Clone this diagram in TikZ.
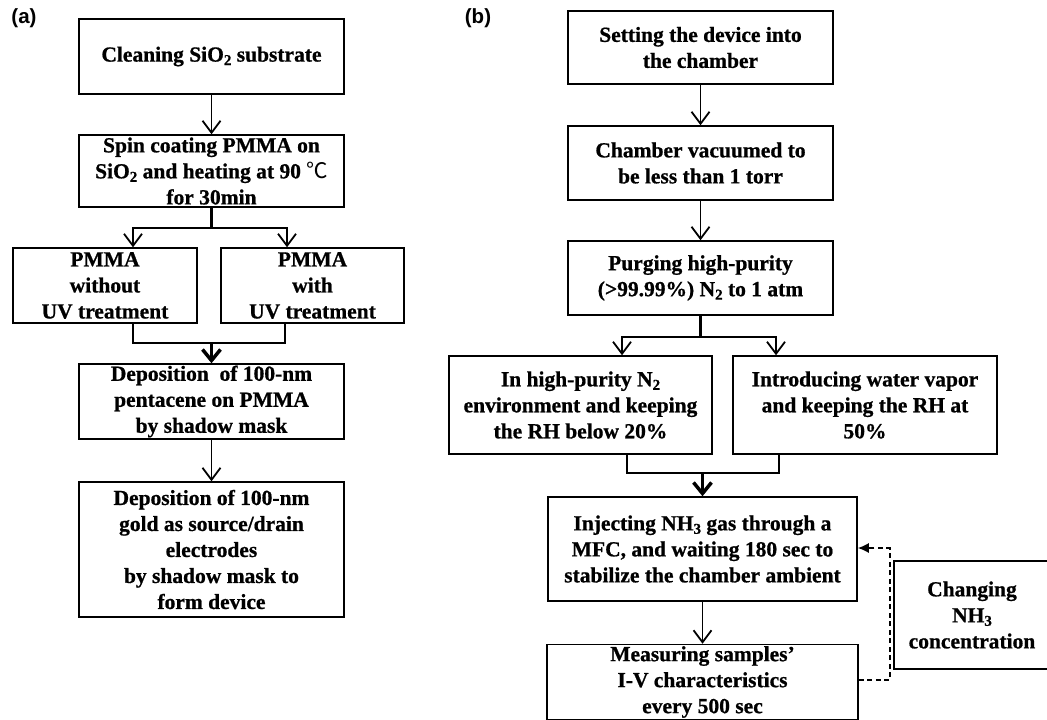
\documentclass[tikz,border=0pt]{standalone}
\usepackage{fontspec}
\setmainfont{Liberation Serif}[BoldFeatures={FakeBold=0.8}]
\newfontfamily\lsans{Liberation Sans}
\newfontfamily\cjkfont{Noto Sans CJK SC}
\usetikzlibrary{arrows.meta}
\newcommand{\lowsub}[1]{\raisebox{-0.35ex}{\fontsize{15}{15}\selectfont #1}}
\begin{document}
\begin{tikzpicture}[x=1pt,y=-1pt,
  box/.style={draw, line width=1.5pt, inner sep=0pt, align=center,
    font=\fontsize{21.5}{26}\selectfont\bfseries},
  conn/.style={line width=2pt},
  arr/.style={line width=1.8pt, -{Straight Barb[length=12pt,width=18pt]}},
  tarr/.style={line width=3.5pt, -{Straight Barb[length=11pt,width=18pt]}},
  tline/.style={line width=3.5pt},
  dasharr/.style={line width=1.6pt, dash pattern=on 5pt off 3.5pt, -{Latex[length=11pt,width=10pt]}},
  lab/.style={font=\lsans\bfseries\fontsize{20.5}{22}\selectfont}]
\useasboundingbox (0,0) rectangle (1047,720);

% labels
\node[lab] (la) at (24,18) {(a)};
\node[lab] (lb) at (478,18) {(b)};

% panel (a)
\node[box, minimum width=265pt, minimum height=75pt] (A1) at (211.5,56.5) {Cleaning SiO\lowsub{2} substrate};
\node[box, minimum width=265pt, minimum height=72pt] (A2) at (211.5,171) {Spin coating PMMA on\\SiO\lowsub{2} and heating at 90 {\cjkfont\mdseries ℃}\\for 30min};
\node[box, minimum width=184pt, minimum height=75pt] (A3L) at (105,285.5) {PMMA\\without\\UV treatment};
\node[box, minimum width=183pt, minimum height=75pt] (A3R) at (312.5,285.5) {PMMA\\with\\UV treatment};
\node[box, minimum width=265pt, minimum height=75pt] (A4) at (211.5,401.5) {Deposition~ of 100-nm\\pentacene on PMMA\\by shadow mask};
\node[box, minimum width=265pt, minimum height=135pt] (A5) at (211.5,549.5) {Deposition of 100-nm\\gold as source/drain\\electrodes\\by shadow mask to\\form device};

\draw[arr] (A1) -- (A2);
\draw[tline] (A2.south) -- ++(0,20) coordinate (abr);
\draw[arr] (abr) -| ([xshift=28pt]A3L.north);
\draw[arr] (abr) -| ([xshift=-25.5pt]A3R.north);
\path (A4.north) ++(0,-20) coordinate (amg);
\draw[conn] ([xshift=28pt]A3L.south) |- (amg) -| ([xshift=-27.5pt]A3R.south);
\draw[tarr] (amg) -- (A4.north);
\draw[arr] (A4) -- (A5);

% panel (b)
\node[box, minimum width=265pt, minimum height=73pt] (B1) at (700.5,47.5) {Setting the device into\\the chamber};
\node[box, minimum width=265pt, minimum height=74pt] (B2) at (700.5,163) {Chamber vacuumed to\\be less than 1 torr};
\node[box, minimum width=265pt, minimum height=74pt] (B3) at (700.5,278) {Purging high-purity\\(>99.99\%) N\lowsub{2} to 1 atm};
\node[box, minimum width=263pt, minimum height=98pt] (B4L) at (580.5,405) {In high-purity N\lowsub{2}\\environment and keeping\\the RH below 20\%};
\node[box, minimum width=264pt, minimum height=98pt] (B4R) at (865,405) {Introducing water vapor\\and keeping the RH at\\50\%};
\node[box, minimum width=309pt, minimum height=104pt] (B5) at (702.5,549) {Injecting NH\lowsub{3} gas through a\\MFC, and waiting 180 sec to\\stabilize the chamber ambient};
\node[box, minimum width=311pt, minimum height=75pt] (B6) at (702.5,682) {Measuring samples'\\I-V characteristics\\every 500 sec};
\node[box, minimum width=156pt, minimum height=108pt] (B7) at (972,615) {Changing\\NH\lowsub{3}\\concentration};

\draw[arr] (B1) -- (B2);
\draw[arr] (B2) -- (B3);
\draw[tline] (B3.south) -- ++(0,21) coordinate (bbr);
\draw[arr] (bbr) -| ([xshift=41.5pt]B4L.north);
\draw[arr] (bbr) -| ([xshift=-89pt]B4R.north);
\path (B5.north) ++(0,-23) coordinate (bmg);
\draw[conn] ([xshift=46.5pt]B4L.south) |- (bmg) -| ([xshift=-86pt]B4R.south);
\draw[tarr] (bmg) -- (B5.north);
\draw[arr] (B5) -- (B6);
\draw[dasharr] ([yshift=2pt]B6.east) -- ++(31,0) |- ([yshift=1pt]B5.east);
\end{tikzpicture}
\end{document}
